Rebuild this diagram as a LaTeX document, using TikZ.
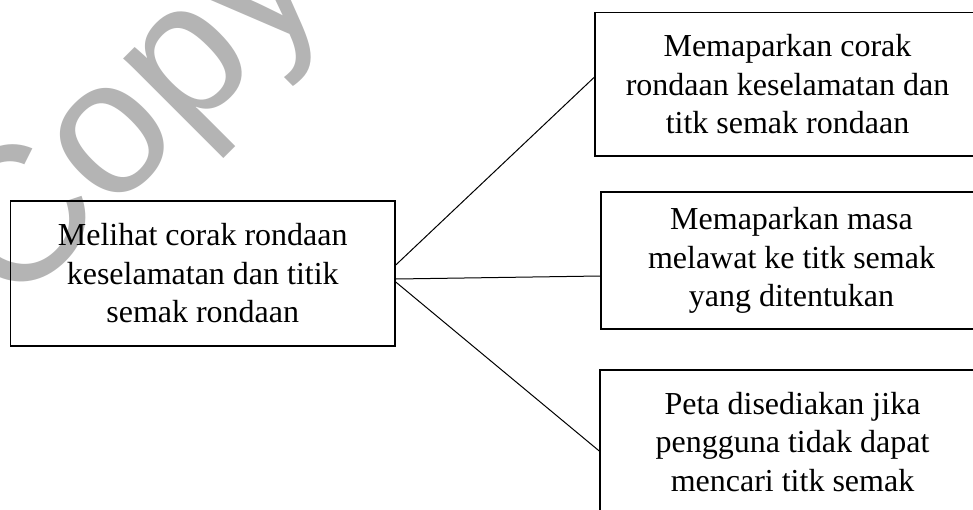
\documentclass[tikz,border=0pt]{standalone}
\usepackage{fontspec}
\setmainfont{Liberation Serif}
\newfontfamily\wmfont{Liberation Sans}
\definecolor{wmgray}{RGB}{180,180,180}
\tikzset{
  box/.style={draw=black, line width=1.5pt, inner sep=0pt, align=center,
              font=\fontsize{32}{38.5}\selectfont},
  link/.style={draw=black, line width=1pt},
}
\begin{document}
\begin{tikzpicture}[x=1pt, y=-1pt]
  \useasboundingbox (0,0) rectangle (973,509);
  \clip (0,0) rectangle (973,509);
  \fill[white] (0,0) rectangle (973,509);

  % faint watermark behind everything
  \node[anchor=base west, rotate=45, inner sep=0pt, text=wmgray,
        font=\wmfont\fontsize{192}{192}\selectfont] (wm) at (12.7,313) {Copy};

  % main box on the left
  \node[box, minimum width=384.5pt, minimum height=145pt] (L) at (202.75,273.5)
    {Melihat corak rondaan\\keselamatan dan titik\\semak rondaan};

  % three result boxes on the right
  \node[box, minimum width=385pt, minimum height=143.5pt] (T) at (787.5,84.25)
    {Memaparkan corak\\rondaan keselamatan dan\\titk semak rondaan};
  \node[box, minimum width=381pt, minimum height=137pt] (M) at (791.5,260.5)
    {Memaparkan masa\\melawat ke titk semak\\yang ditentukan};
  \node[box, minimum width=385pt, minimum height=144pt] (B) at (792.5,442)
    {Peta disediakan jika\\pengguna tidak dapat\\mencari titk semak};

  % connectors
  \draw[link] ([yshift=8.5pt]L.east) -- ([yshift=7pt]T.west);
  \draw[link] ([yshift=-5.5pt]L.east) -- ([yshift=-15.5pt]M.west);
  \draw[link] ([yshift=-8.5pt]L.east) -- ([yshift=-9pt]B.west);
\end{tikzpicture}
\end{document}
